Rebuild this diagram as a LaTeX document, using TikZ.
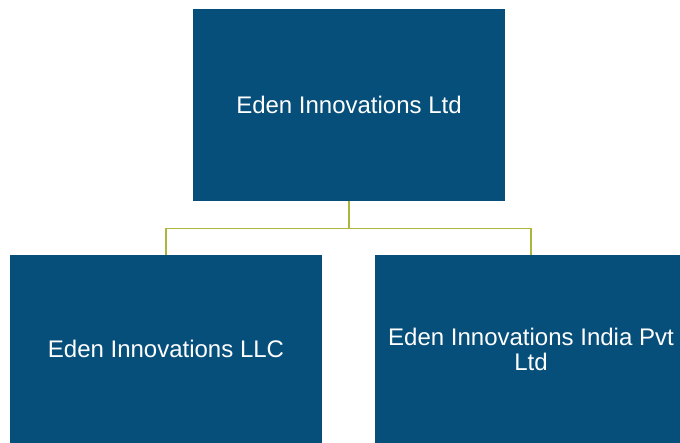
\documentclass[tikz,border=0pt]{standalone}
\usepackage{fontspec}
\setmainfont{Liberation Sans}
\definecolor{boxblue}{RGB}{7,79,123}
\definecolor{linkolive}{RGB}{172,182,62}
\tikzset{
  entity/.style={draw=none, fill=boxblue, text=white, minimum width=312pt,
    align=center, inner sep=0pt,
    font=\fontsize{24}{25}\selectfont},
  link/.style={draw=linkolive, line width=1.3pt}
}
\begin{document}
\begin{tikzpicture}[x=1pt, y=-1pt]
  \useasboundingbox (0,0) rectangle (680,442);
  \clip (0,0) rectangle (680,442);

  % Parent company
  \node[entity, minimum height=192pt] (parent) at (349,105) {Eden Innovations Ltd};

  % Subsidiaries
  \node[entity, minimum height=188pt] (llc) at (166,349) {Eden Innovations LLC};
  \node[entity, minimum height=188pt] (india) at (531,349) {Eden Innovations India Pvt\\Ltd};

  % Links
  \draw[link] (parent.south) -- ++(0,27) -| (llc.north);
  \draw[link] (parent.south) -- ++(0,27) -| (india.north);
\end{tikzpicture}
\end{document}
